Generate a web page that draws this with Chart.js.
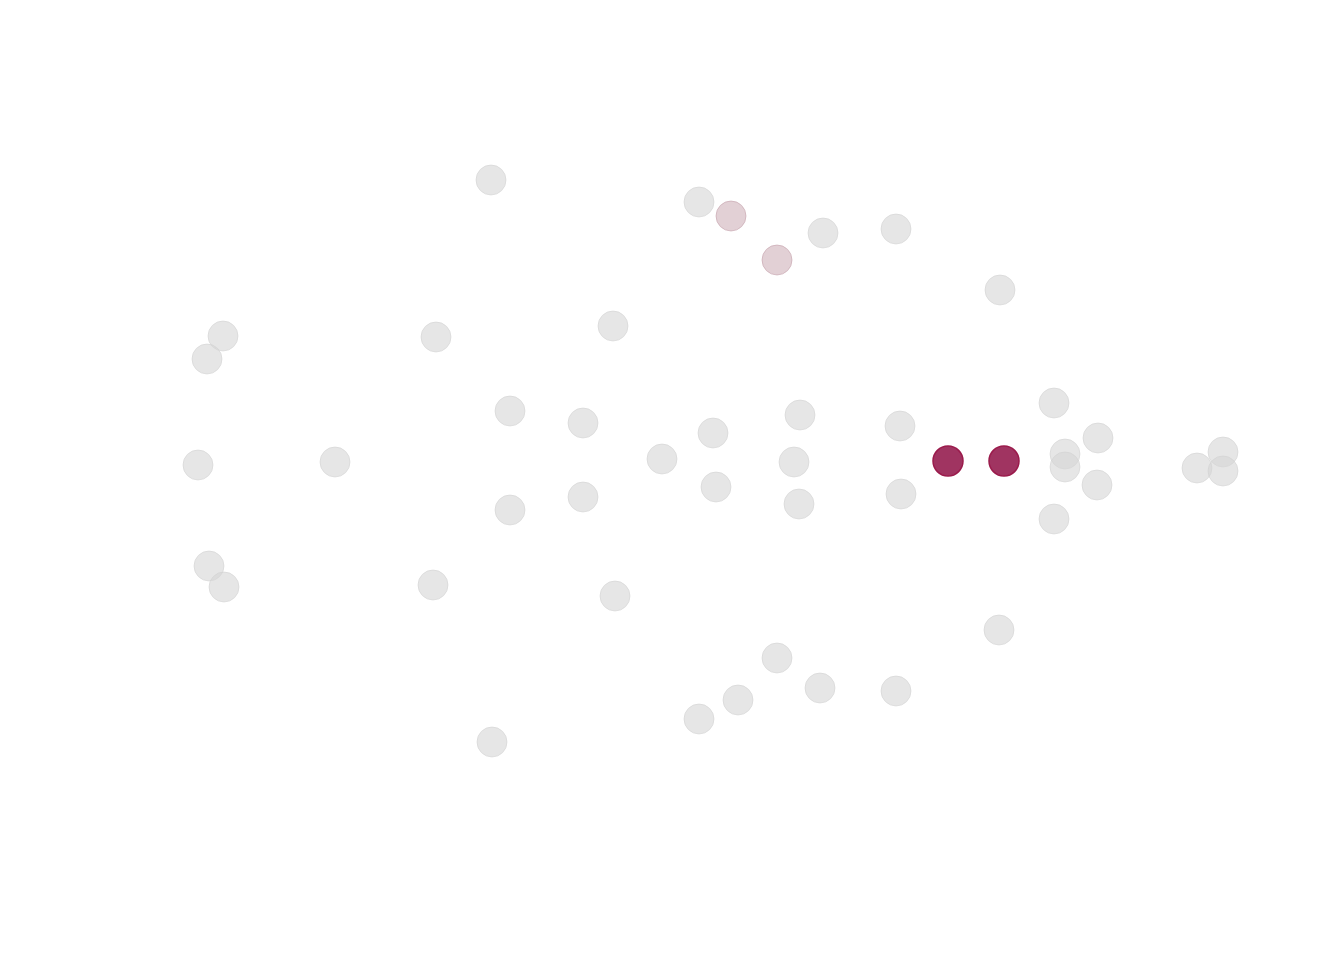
<!DOCTYPE html>
<html>
<head>
<meta charset="utf-8">
<script src="https://cdn.jsdelivr.net/npm/chart.js@4"></script>
<style>
  html, body { margin: 0; padding: 0; background: #ffffff; }
  #wrap { width: 1344px; height: 960px; }
</style>
</head>
<body>
<div id="wrap"><canvas id="c" width="1344" height="960"></canvas></div>
<script>
// Node layout positions (arbitrary layout units)
const grayX = [-1.81, 0.27, 1.51, 2.24, 3.28, -4.49, -4.65, -2.36, -0.59, -1.62,
               -0.89, 1.28, 0.41, 2.28, 3.82, 4.26, -4.74, -3.37, -0.10, 1.22,
               3.93, 3.93, 5.51, 5.25, 5.51, -1.62, -0.89, 0.44, 1.27, 2.29,
               4.25, 3.82, -4.63, -4.48, -2.39, -0.57, 3.27, 1.05, 1.48, 2.24,
               0.66, 0.27, -1.80];
const grayY = [2.81, 2.59, 2.28, 2.32, 1.71, 1.25, 1.02, 1.24, 1.35, 0.50,
               0.38, 0.46, 0.28, 0.35, 0.58, 0.23, -0.04, -0.01, 0.02, -0.01,
               0.07, -0.06, 0.09, -0.07, -0.10, -0.49, -0.36, -0.26, -0.43, -0.33,
               -0.24, -0.58, -1.05, -1.26, -1.24, -1.35, -1.69, -1.97, -2.27, -2.30,
               -2.39, -2.58, -2.81];
const pinkX = [0.59, 1.05];
const pinkY = [2.45, 2.01];
const hiX = [2.76, 3.32];
const hiY = [0.00, 0.00];

const xRange = [-6.72, 6.72];
const yRange = [-4.99, 4.61];

const toPts = (xs, ys) => xs.map((x, i) => ({ x: x, y: ys[i] }));

new Chart(document.getElementById('c'), {
  type: 'scatter',
  data: {
    datasets: [
      {
        label: 'highlight',
        data: toPts(hiX, hiY),
        pointRadius: 15,
        pointBorderWidth: 1.5,
        backgroundColor: 'rgba(150,30,80,0.9)',
        borderColor: '#9b1b4c'
      },
      {
        label: 'related',
        data: toPts(pinkX, pinkY),
        pointRadius: 15,
        pointBorderWidth: 1,
        backgroundColor: 'rgba(190,150,162,0.45)',
        borderColor: 'rgba(190,150,162,0.5)'
      },
      {
        label: 'other',
        data: toPts(grayX, grayY),
        pointRadius: 15,
        pointBorderWidth: 1,
        backgroundColor: 'rgba(213,213,213,0.6)',
        borderColor: 'rgba(208,208,208,0.55)'
      }
    ]
  },
  options: {
    responsive: false,
    animation: false,
    layout: { padding: 0, autoPadding: false },
    plugins: { legend: { display: false }, tooltip: { enabled: false } },
    scales: {
      x: { type: 'linear', display: false, min: xRange[0], max: xRange[1] },
      y: { type: 'linear', display: false, min: yRange[0], max: yRange[1] }
    }
  }
});
</script>
</body>
</html>
